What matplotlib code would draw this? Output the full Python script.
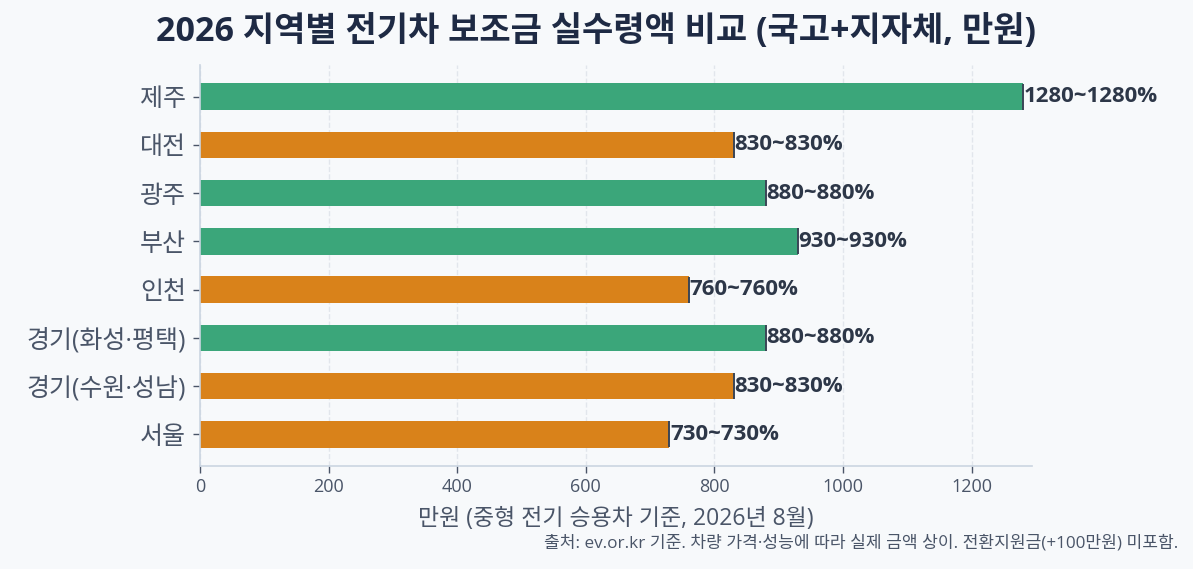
import numpy as np
import matplotlib.pyplot as plt

plt.rcParams['font.family'] = ['Open Sans', 'Noto Sans CJK KR', 'DejaVu Sans']

regions = ['서울', '경기(수원·성남)', '경기(화성·평택)', '인천', '부산', '광주', '대전', '제주']
amount_min = [730, 830, 880, 760, 930, 880, 830, 1280]
amount_max = [730, 830, 880, 760, 930, 880, 830, 1280]
bar_colors = ['#d9821a', '#d9821a', '#3ba67a', '#d9821a', '#3ba67a', '#3ba67a', '#d9821a', '#3ba67a']

bg = '#f7f9fb'
fig = plt.figure(figsize=(11.93, 5.69), dpi=100, facecolor=bg)
ax = fig.add_axes([200/1193, 1 - 466/569, 832/1193, 401/569])
ax.set_facecolor(bg)

y = np.arange(len(regions))
ax.barh(y, amount_max, height=0.55, color=bar_colors, zorder=2)
ax.errorbar(amount_max, y, xerr=[np.zeros(len(y)), np.zeros(len(y))], fmt='none',
            ecolor='#3a4556', capsize=9.5, elinewidth=1.2, capthick=1.2, zorder=3)

for yi, lo, hi in zip(y, amount_min, amount_max):
    ax.text(hi + 1, yi, f'{lo}~{hi}%', ha='left', va='center', fontsize=16,
            fontweight='bold', color='#2d3748', zorder=4)

ax.set_yticks(y)
ax.set_yticklabels(regions, fontsize=18, color='#4a5568')
ax.set_xlim(0, 1294)
ax.set_xticks([0, 200, 400, 600, 800, 1000, 1200])
ax.tick_params(axis='x', labelsize=13, colors='#4a5568', length=5, width=1)
ax.tick_params(axis='y', colors='#4a5568', length=5, width=1, pad=5)

ax.grid(axis='x', linestyle='--', color='#e2e6ec', linewidth=1, zorder=0)
ax.set_axisbelow(True)
for s in ['top', 'right']:
    ax.spines[s].set_visible(False)
for s in ['left', 'bottom']:
    ax.spines[s].set_color('#cbd5e1')
    ax.spines[s].set_linewidth(1.2)

ax.set_xlabel('만원 (중형 전기 승용차 기준, 2026년 8월)', fontsize=16.5, color='#4a5568', labelpad=8)
fig.suptitle('2026 지역별 전기차 보조금 실수령액 비교 (국고+지자체, 만원)', x=0.5, y=0.975,
             fontsize=24.5, fontweight='bold', color='#1e2a44')
fig.text(1178/1193, 1 - 543/569, '출처: ev.or.kr 기준. 차량 가격·성능에 따라 실제 금액 상이. 전환지원금(+100만원) 미포함.',
         ha='right', va='center', fontsize=12.3, color='#4a5568')

fig.savefig('out.png', dpi=100, facecolor=bg)
